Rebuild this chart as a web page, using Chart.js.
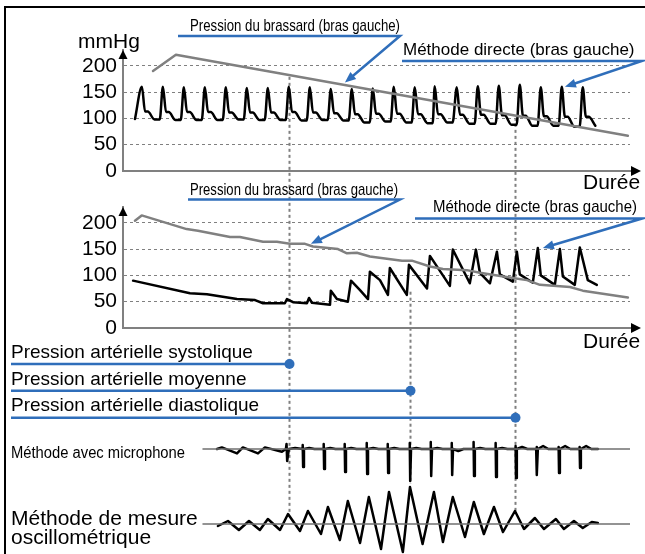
<!DOCTYPE html>
<html lang="fr">
<head>
<meta charset="utf-8">
<script src="https://cdn.jsdelivr.net/npm/chart.js@4.4.1/dist/chart.umd.min.js"></script>
<style>
  html, body { margin: 0; padding: 0; background: #fff; }
  #wrap { position: relative; width: 645px; height: 554px; }
</style>
</head>
<body>
<div id="wrap"><canvas id="chart"></canvas></div>
<script>
// time runs in heartbeats (1 unit = 1 beat)
const xMax = 24.15;
const yTicks = [0, 50, 100, 150, 200];

// upper panel: cuff pressure and direct (intra-arterial) pressure
const topCuffT = [1.43, 2.52, 24.05];
const topCuffV = [190, 221, 67];
const topStart = [0.57, 99];
const topPeakT = [0.9, 1.9, 2.9, 3.9, 4.9, 5.9, 6.9, 7.9, 8.9, 9.9, 10.9, 11.9, 12.9, 13.9, 14.85, 15.9, 16.9, 17.9, 18.9, 19.9, 20.9, 21.9];
const topPeak = [160, 160, 159, 159, 159, 158, 158, 160, 159, 156, 156, 157, 160, 159, 161, 159, 161, 162, 164, 159, 160, 159];
const topNotch = [113, 112, 112, 112, 111, 111, 111, 112, 111, 110, 108, 109, 109, 108, 108, 107, 107, 106, 105, 104, 103, 103];
const topTrough = [98, 97, 97, 97, 98, 97, 97, 96, 97, 96, 92, 94, 92, 91, 92, 90, 90, 88, 86, 86, 84, 86];

// lower panel
const botCuffT = [0.57, 0.89, 3.03, 3.57, 5.1, 5.57, 6.67, 7.33, 7.95, 8.67, 9.05, 10.24, 10.67, 11.14, 11.76, 13.29, 13.76, 14.62, 15.24, 16.38, 17.0, 18.57, 19.24, 19.86, 21.29, 21.9, 24.05];
const botCuffV = [204, 214, 188, 185, 173, 173, 164, 164, 160, 160, 155, 150, 142, 143, 136, 128, 128, 117, 112, 110, 105, 95, 91, 82, 78, 71, 58];
const botPulseT = [0.48, 3.19, 4.0, 5.43, 6.29, 6.67, 7.71, 7.81, 8.1, 8.76, 8.86, 9.0, 9.86, 9.9, 10.19, 10.71, 10.86, 11.29, 11.67, 11.76, 12.24, 12.62, 12.71, 13.52, 13.62, 14.48, 14.62, 15.57, 15.71, 16.52, 16.81, 17.0, 17.48, 17.81, 17.95, 18.57, 18.76, 18.9, 19.52, 19.76, 19.9, 20.57, 20.81, 20.95, 21.52, 21.76, 22.14, 22.57];
const botPulseV = [90, 66, 64, 55, 53, 47, 47, 55, 49, 47, 57, 48, 44, 71, 55, 50, 90, 72, 55, 107, 91, 63, 114, 63, 120, 75, 137, 80, 149, 85, 149, 105, 85, 145, 102, 88, 145, 102, 86, 152, 100, 82, 150, 98, 82, 153, 91, 82];

// microphone (Korotkoff sounds)
const traceStartT = 3.81;
const micPreT = [4.48, 4.71, 5.43, 5.71, 6.43, 6.76, 7.57, 7.76, 7.79, 7.82, 7.9, 8.2];
const micPreV = [0, 1.6, -4.4, 1.6, -4.4, 1.6, -2.7, 0, 5, -12, 0, 1];
const micSpikeT = [8.57, 9.57, 10.57, 11.62, 12.62, 13.67, 14.67, 15.67, 16.71, 17.76, 18.71, 19.71, 20.76, 21.76];
const micSpikeUp = [4, 5, 5, 6, 5, 6, 7, 6, 7, 6, 3, 2, 2, 2];
const micSpikeDepth = [-18, -20, -23, -25, -24, -32, -27, -26, -27, -28, -29, -26, -24, -19];
const micHump = [1, 1, 1, 1, 1, 1, 1, -2, 1, 1, 2, 3, 3, 3];
const micEndT = 22.62;

// oscillometric
const oscT = [4.52, 5.0, 5.52, 6.0, 6.52, 6.9, 7.48, 7.86, 8.43, 8.81, 9.43, 9.76, 10.33, 10.71, 11.29, 11.71, 12.29, 12.67, 13.33, 13.67, 14.27, 14.81, 15.24, 15.71, 16.29, 16.71, 17.19, 17.67, 18.1, 18.67, 19.1, 19.62, 20.05, 20.62, 21.0, 21.48, 21.9, 22.33, 22.62];
const oscV = [-2, 3, -6, 3, -6, 5, -6, 10, -7, 13, -10, 17, -16, 23, -19, 27, -25, 32, -28, 37, -20, 32, -18, 27, -13, 22, -10, 17, -8, 13, -5, 6, -5, 5, -5, 3, -4, 2, 1];

// systolic / mean / diastolic instants
const markerT = [7.9, 13.67, 18.67];
const markerNames = ['Pression artérielle systolique', 'Pression artérielle moyenne', 'Pression artérielle diastolique'];

const BLUE = '#2F6EBA';
const GRAY = '#808080';
const FONT = '"Liberation Sans", Arial, sans-serif';

function pts(ts, vs) {
  return ts.map((t, i) => ({x: t, y: vs[i]}));
}

function topPulse() {
  const out = [{x: topStart[0], y: topStart[1]}];
  topPeakT.forEach((t, i) => {
    out.push({x: t, y: topPeak[i]});
    out.push({x: t + 0.15, y: topNotch[i]});
    out.push({x: t + 0.28, y: topNotch[i]});
    out.push({x: t + 0.6, y: topTrough[i]});
    if (i < topPeakT.length - 1) out.push({x: t + 0.85, y: topTrough[i]});
  });
  return out;
}

function micTrace() {
  const out = pts(micPreT, micPreV);
  micSpikeT.forEach((t, i) => {
    out.push({x: t - 0.03, y: 0});
    out.push({x: t - 0.01, y: micSpikeUp[i]});
    out.push({x: t + 0.01, y: micSpikeDepth[i]});
    out.push({x: t + 0.05, y: 0});
    out.push({x: t + 0.3, y: micHump[i]});
    out.push({x: t + 0.55, y: 0});
  });
  out.push({x: micEndT, y: 0});
  return out;
}

function line(data, axis, color, width, smooth) {
  return {
    data, yAxisID: axis, xAxisID: 'x',
    borderColor: color, borderWidth: width,
    pointRadius: 0, tension: 0, fill: false,
    cubicInterpolationMode: smooth ? 'monotone' : 'default',
    borderJoinStyle: 'round', borderCapStyle: 'round'
  };
}

function pressureAxis(weight) {
  return {
    type: 'linear', position: 'left', stack: 'col', stackWeight: 121, weight,
    min: 0, max: 230,
    afterBuildTicks: s => { s.ticks = yTicks.map(v => ({value: v})); },
    afterFit: s => { s.width = 118; s.paddingTop = 0; s.paddingBottom = 0; },
    ticks: {font: {family: FONT, size: 21}, color: '#000', padding: 6, autoSkip: false},
    grid: {
      drawTicks: false, lineWidth: 1,
      color: c => (c.tick && c.tick.value === 0) ? 'rgba(0,0,0,0)' : GRAY
    },
    border: {display: true, color: GRAY, width: 2, dash: [3, 3]}
  };
}

function hiddenAxis(weight, stackWeight, min, max) {
  return {
    type: 'linear', position: 'left', stack: 'col', stackWeight, weight,
    min, max, display: false
  };
}

// annotation layout (page pixels)
const texts = [
  {t: 'mmHg', x: 78, y: 48, size: 21},
  {t: 'Durée', x: 583, y: 189, size: 21},
  {t: 'Durée', x: 583, y: 348, size: 21},
  {t: 'Pression du brassard (bras gauche)', x: 190, y: 31, size: 17, w: 210},
  {t: 'Méthode directe (bras gauche)', x: 403, y: 55, size: 17, w: 234},
  {t: 'Pression du brassard (bras gauche)', x: 190, y: 195, size: 17, w: 208},
  {t: 'Méthode directe (bras gauche)', x: 433, y: 212, size: 17, w: 204},
  {t: 'Méthode avec microphone', x: 11, y: 457.5, size: 16, w: 174},
  {t: 'Méthode de mesure', x: 11, y: 524.5, size: 21},
  {t: 'oscillométrique', x: 11, y: 544, size: 21}
];
const callouts = [
  {x1: 178, x2: 400, y: 36, axis: 'yTop', tx: 10.57, ty: 168},
  {x1: 402, x2: 642, y: 61, axis: 'yTop', tx: 21.05, ty: 160},
  {x1: 188, x2: 400, y: 199.5, axis: 'yBot', tx: 8.95, ty: 160},
  {x1: 415, x2: 642, y: 218.5, axis: 'yBot', tx: 20.0, ty: 152}
];
const markerSpan = [
  ['yTop', 179, 'yOsc', 11],
  ['yBot', 69, 'yOsc', 40],
  ['yTop', 101, 'yOsc', 13]
];
const bpRows = [{y: 357.5, lineY: 364}, {y: 384.5, lineY: 390.7}, {y: 411, lineY: 417.7}];

function head(ctx, fx, fy, tx, ty, len, half) {
  const a = Math.atan2(ty - fy, tx - fx);
  const c = Math.cos(a), s = Math.sin(a);
  ctx.beginPath();
  ctx.moveTo(tx, ty);
  ctx.lineTo(tx - len * c + half * s, ty - len * s - half * c);
  ctx.lineTo(tx - len * c - half * s, ty - len * s + half * c);
  ctx.closePath();
  ctx.fill();
}

const deco = {
  id: 'deco',
  beforeDatasetsDraw(chart) {
    const {ctx, scales} = chart;
    const x = scales.x;
    ctx.save();
    // dotted instants
    ctx.strokeStyle = GRAY;
    ctx.lineWidth = 2;
    ctx.setLineDash([3, 3]);
    markerT.forEach((t, i) => {
      const [a1, v1, a2, v2] = markerSpan[i];
      const px = Math.round(x.getPixelForValue(t)) + 0.5;
      ctx.beginPath();
      ctx.moveTo(px, scales[a1].getPixelForValue(v1));
      ctx.lineTo(px, scales[a2].getPixelForValue(v2));
      ctx.stroke();
    });
    ctx.setLineDash([]);
    // time axes with arrows
    ['yTop', 'yBot'].forEach(id => {
      const s = scales[id];
      const y0 = s.getPixelForValue(0);
      ctx.strokeStyle = GRAY;
      ctx.lineWidth = 2;
      ctx.beginPath();
      ctx.moveTo(x.left, y0);
      ctx.lineTo(633, y0);
      ctx.stroke();
      ctx.fillStyle = '#000';
      head(ctx, x.left, y0, 641, y0, 10, 5);
      head(ctx, x.left, s.bottom, x.left, s.top, 9, 4.5);
    });
    ctx.restore();
  },
  afterDraw(chart) {
    const {ctx, scales} = chart;
    const x = scales.x;
    ctx.save();
    // frame
    ctx.strokeStyle = '#000';
    ctx.lineWidth = 2;
    ctx.beginPath();
    ctx.moveTo(645, 7);
    ctx.lineTo(5, 7);
    ctx.lineTo(5, 554);
    ctx.stroke();
    // texts
    ctx.fillStyle = '#000';
    ctx.textBaseline = 'alphabetic';
    ctx.textAlign = 'left';
    texts.forEach(l => {
      ctx.font = l.size + 'px ' + FONT;
      if (l.w) ctx.fillText(l.t, l.x, l.y, l.w);
      else ctx.fillText(l.t, l.x, l.y);
    });
    // blue callouts
    ctx.strokeStyle = BLUE;
    ctx.fillStyle = BLUE;
    ctx.lineWidth = 2.5;
    callouts.forEach(c => {
      const tx = x.getPixelForValue(c.tx);
      const ty = scales[c.axis].getPixelForValue(c.ty);
      const a = Math.atan2(ty - c.y, tx - c.x2);
      ctx.beginPath();
      ctx.moveTo(c.x1, c.y);
      ctx.lineTo(c.x2, c.y);
      ctx.lineTo(tx - 8 * Math.cos(a), ty - 8 * Math.sin(a));
      ctx.stroke();
      head(ctx, c.x2, c.y, tx, ty, 11, 4.5);
    });
    // blood pressure rows
    markerNames.forEach((name, i) => {
      const r = bpRows[i];
      const px = Math.round(x.getPixelForValue(markerT[i])) + 0.5;
      ctx.fillStyle = '#000';
      ctx.font = '19px ' + FONT;
      ctx.fillText(name, 11, r.y);
      ctx.strokeStyle = BLUE;
      ctx.lineWidth = 2.5;
      ctx.beginPath();
      ctx.moveTo(11, r.lineY);
      ctx.lineTo(px, r.lineY);
      ctx.stroke();
      ctx.fillStyle = BLUE;
      ctx.beginPath();
      ctx.arc(px, r.lineY, 5, 0, Math.PI * 2);
      ctx.fill();
    });
    ctx.restore();
  }
};

new Chart(document.getElementById('chart'), {
  type: 'line',
  data: {
    datasets: [
      line(pts(topCuffT, topCuffV), 'yTop', GRAY, 2.5),
      line(topPulse(), 'yTop', '#000', 2.5, true),
      line(pts(botCuffT, botCuffV), 'yBot', GRAY, 2.5),
      line(pts(botPulseT, botPulseV), 'yBot', '#000', 2.5),
      line(pts([traceStartT, xMax], [0, 0]), 'yMic', '#707070', 1.5),
      line(micTrace(), 'yMic', '#000', 2.5),
      line(pts([traceStartT, xMax], [0, 0]), 'yOsc', '#707070', 1.5),
      line(pts(oscT, oscV), 'yOsc', '#000', 2.5)
    ]
  },
  options: {
    responsive: true,
    maintainAspectRatio: false,
    animation: false,
    events: [],
    layout: {padding: {top: 50, bottom: 0, left: 5, right: 15}},
    plugins: {legend: {display: false}, tooltip: {enabled: false}},
    scales: {
      x: {type: 'linear', min: 0, max: xMax, display: false},
      yTop: pressureAxis(6),
      yGap1: hiddenAxis(5, 36, 0, 1),
      yBot: pressureAxis(4),
      yGap2: hiddenAxis(3, 96, 0, 1),
      yMic: hiddenAxis(2, 60, -35, 25),
      yOsc: hiddenAxis(1, 70, -30, 40)
    }
  },
  plugins: [deco]
});
</script>
</body>
</html>
